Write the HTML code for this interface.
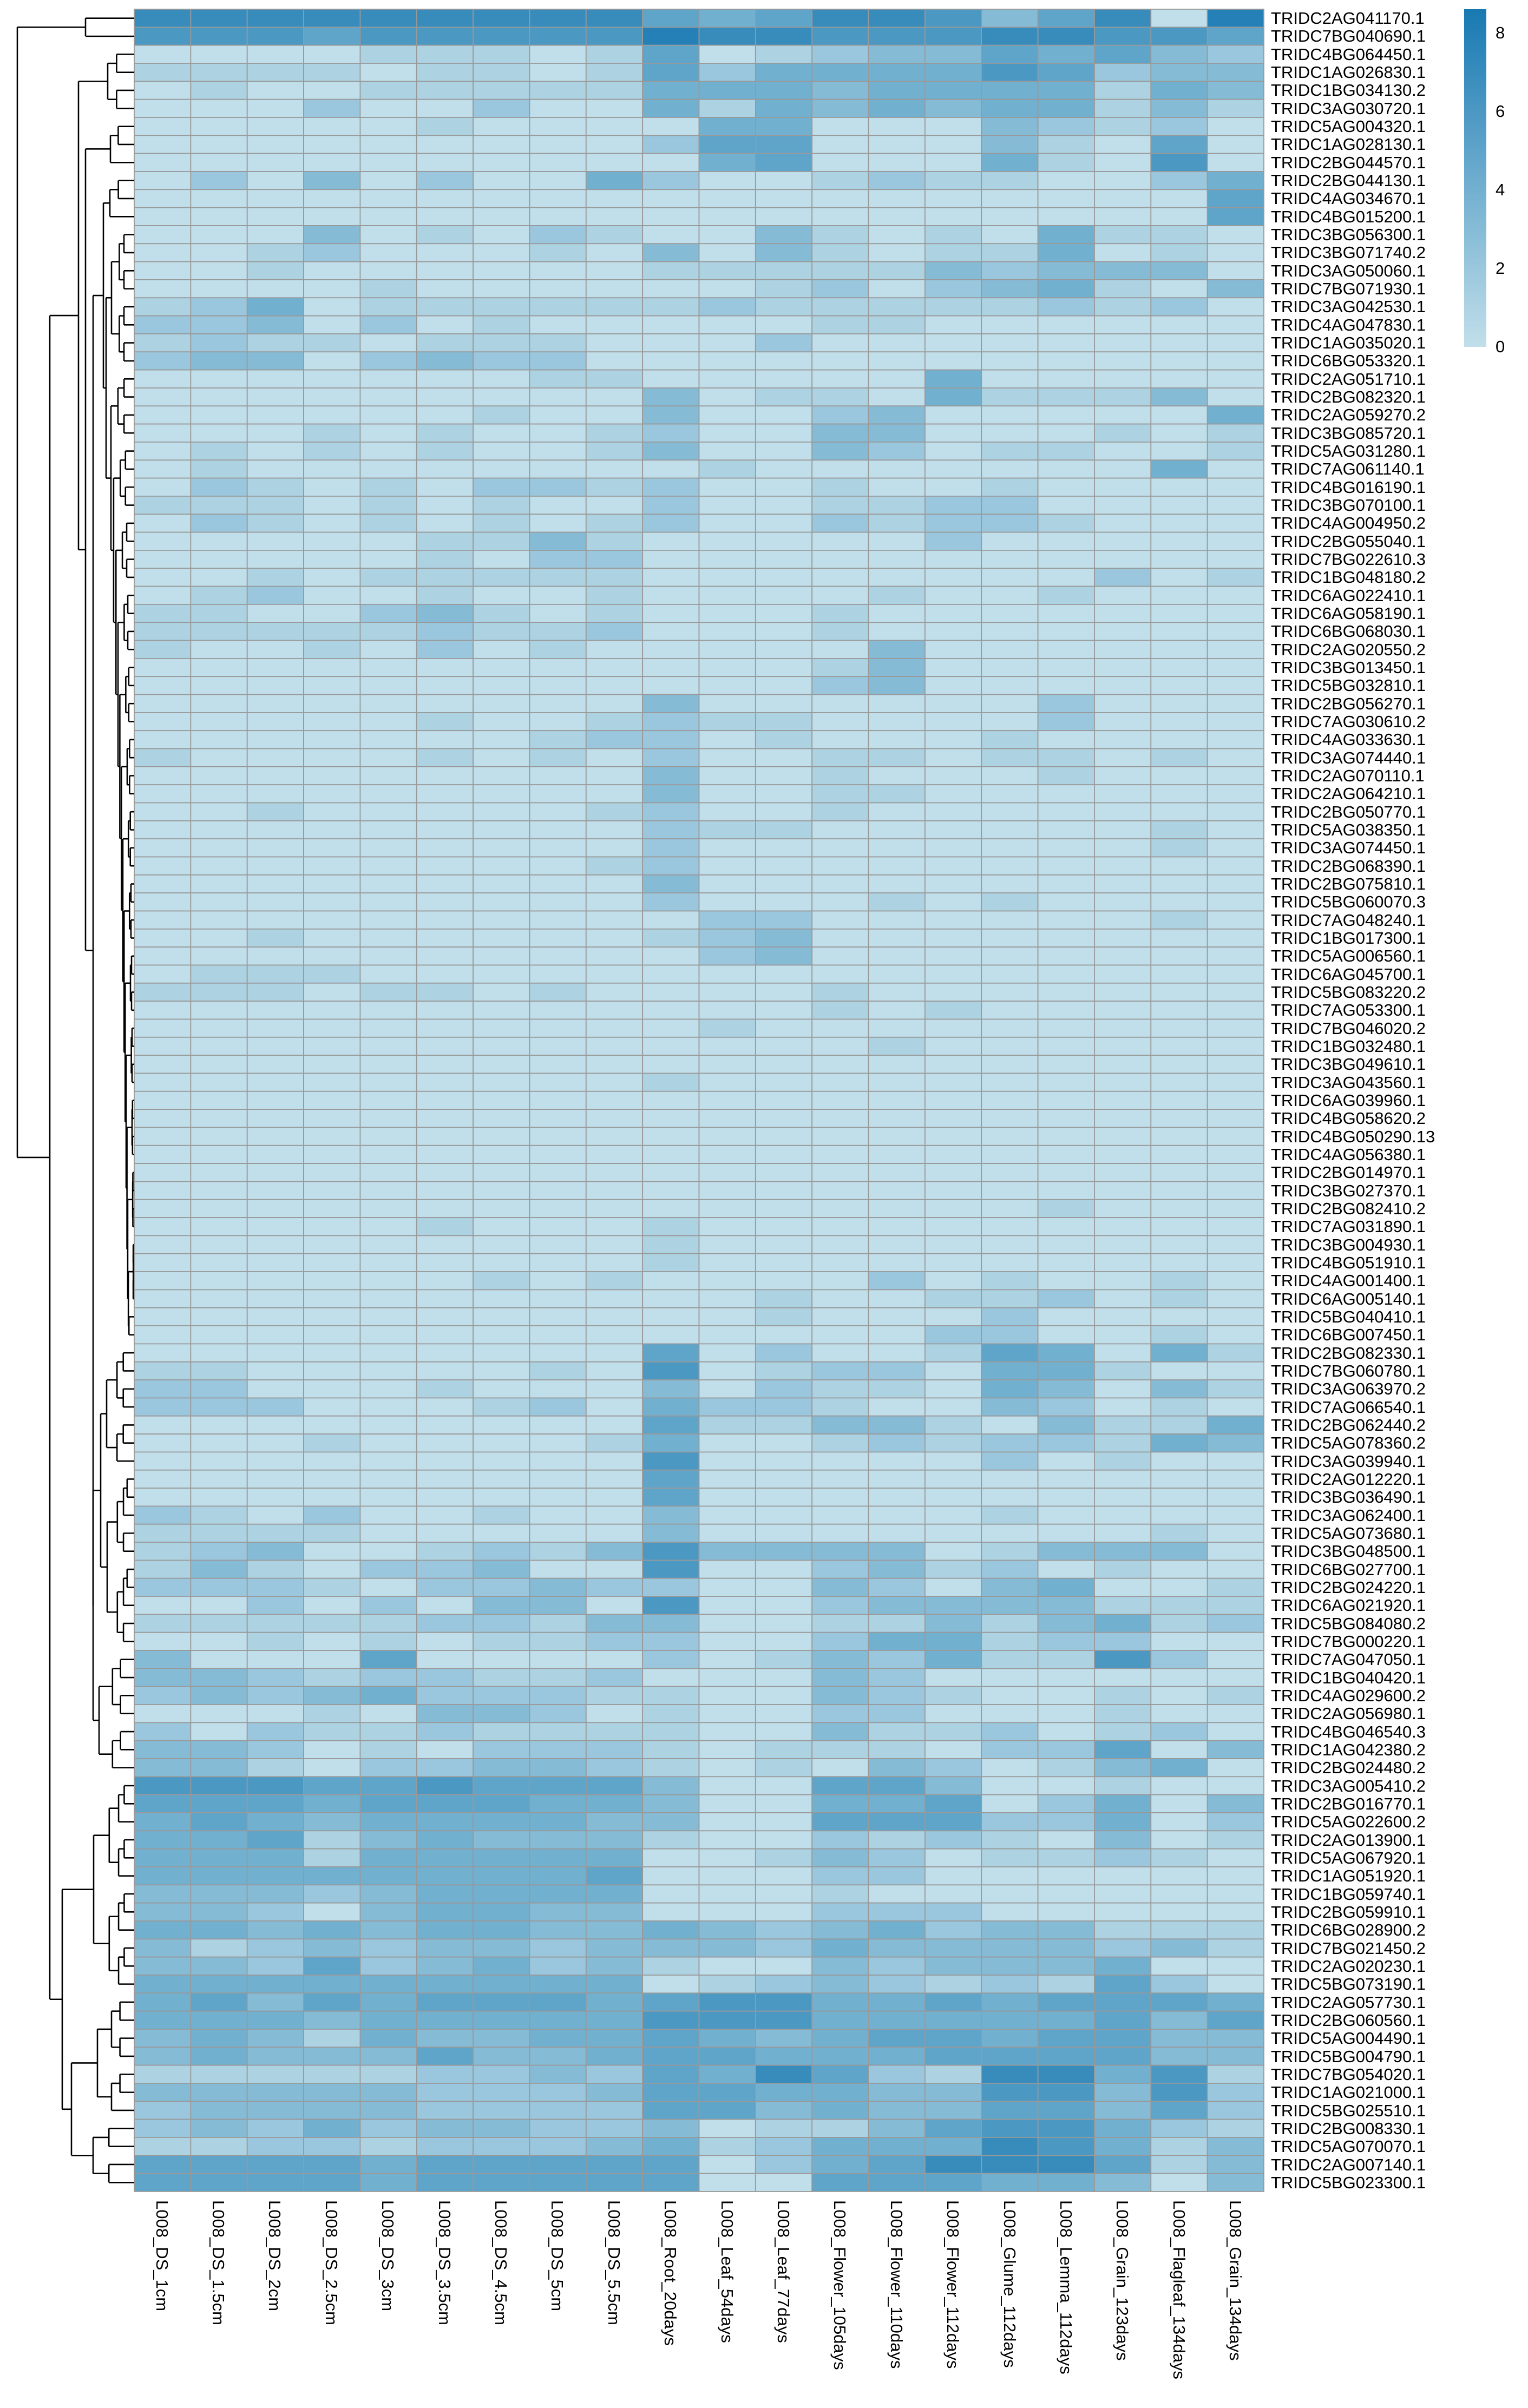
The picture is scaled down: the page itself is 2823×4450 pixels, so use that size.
<!DOCTYPE html>
<html><head><meta charset="utf-8"><style>
html,body{margin:0;padding:0;background:#fff;}
svg{display:block;}
text{font-family:"Liberation Sans",sans-serif;fill:#000;}
</style></head><body>
<svg id="s" width="2823" height="4450" viewBox="0 0 2823 4450" xmlns="http://www.w3.org/2000/svg">
<defs><linearGradient id="cb" x1="0" y1="0" x2="0" y2="1"><stop offset="0" stop-color="#1879b2"/><stop offset="1" stop-color="#c1dfea"/></linearGradient></defs>
<g id="cells"></g>
<g id="dend" stroke="#000" stroke-width="2.6" fill="none"></g>
<rect x="2705" y="17" width="41" height="624" fill="url(#cb)"/>
<g font-size="31">
<text x="2763" y="71">8</text><text x="2763" y="216">6</text><text x="2763" y="361">4</text><text x="2763" y="506">2</text><text x="2763" y="651">0</text>
</g>
<g id="rl" font-size="31">
<text x="2348" y="44">TRIDC2AG041170.1</text>
<text x="2348" y="77">TRIDC7BG040690.1</text>
<text x="2348" y="111">TRIDC4BG064450.1</text>
<text x="2348" y="144">TRIDC1AG026830.1</text>
<text x="2348" y="177">TRIDC1BG034130.2</text>
<text x="2348" y="211">TRIDC3AG030720.1</text>
<text x="2348" y="244">TRIDC5AG004320.1</text>
<text x="2348" y="277">TRIDC1AG028130.1</text>
<text x="2348" y="311">TRIDC2BG044570.1</text>
<text x="2348" y="344">TRIDC2BG044130.1</text>
<text x="2348" y="377">TRIDC4AG034670.1</text>
<text x="2348" y="411">TRIDC4BG015200.1</text>
<text x="2348" y="444">TRIDC3BG056300.1</text>
<text x="2348" y="477">TRIDC3BG071740.2</text>
<text x="2348" y="511">TRIDC3AG050060.1</text>
<text x="2348" y="544">TRIDC7BG071930.1</text>
<text x="2348" y="577">TRIDC3AG042530.1</text>
<text x="2348" y="611">TRIDC4AG047830.1</text>
<text x="2348" y="644">TRIDC1AG035020.1</text>
<text x="2348" y="677">TRIDC6BG053320.1</text>
<text x="2348" y="711">TRIDC2AG051710.1</text>
<text x="2348" y="744">TRIDC2BG082320.1</text>
<text x="2348" y="777">TRIDC2AG059270.2</text>
<text x="2348" y="811">TRIDC3BG085720.1</text>
<text x="2348" y="844">TRIDC5AG031280.1</text>
<text x="2348" y="877">TRIDC7AG061140.1</text>
<text x="2348" y="911">TRIDC4BG016190.1</text>
<text x="2348" y="944">TRIDC3BG070100.1</text>
<text x="2348" y="977">TRIDC4AG004950.2</text>
<text x="2348" y="1011">TRIDC2BG055040.1</text>
<text x="2348" y="1044">TRIDC7BG022610.3</text>
<text x="2348" y="1077">TRIDC1BG048180.2</text>
<text x="2348" y="1111">TRIDC6AG022410.1</text>
<text x="2348" y="1144">TRIDC6AG058190.1</text>
<text x="2348" y="1177">TRIDC6BG068030.1</text>
<text x="2348" y="1211">TRIDC2AG020550.2</text>
<text x="2348" y="1244">TRIDC3BG013450.1</text>
<text x="2348" y="1277">TRIDC5BG032810.1</text>
<text x="2348" y="1311">TRIDC2BG056270.1</text>
<text x="2348" y="1344">TRIDC7AG030610.2</text>
<text x="2348" y="1377">TRIDC4AG033630.1</text>
<text x="2348" y="1411">TRIDC3AG074440.1</text>
<text x="2348" y="1444">TRIDC2AG070110.1</text>
<text x="2348" y="1477">TRIDC2AG064210.1</text>
<text x="2348" y="1511">TRIDC2BG050770.1</text>
<text x="2348" y="1544">TRIDC5AG038350.1</text>
<text x="2348" y="1577">TRIDC3AG074450.1</text>
<text x="2348" y="1611">TRIDC2BG068390.1</text>
<text x="2348" y="1644">TRIDC2BG075810.1</text>
<text x="2348" y="1677">TRIDC5BG060070.3</text>
<text x="2348" y="1711">TRIDC7AG048240.1</text>
<text x="2348" y="1744">TRIDC1BG017300.1</text>
<text x="2348" y="1777">TRIDC5AG006560.1</text>
<text x="2348" y="1811">TRIDC6AG045700.1</text>
<text x="2348" y="1844">TRIDC5BG083220.2</text>
<text x="2348" y="1877">TRIDC7AG053300.1</text>
<text x="2348" y="1911">TRIDC7BG046020.2</text>
<text x="2348" y="1944">TRIDC1BG032480.1</text>
<text x="2348" y="1977">TRIDC3BG049610.1</text>
<text x="2348" y="2011">TRIDC3AG043560.1</text>
<text x="2348" y="2044">TRIDC6AG039960.1</text>
<text x="2348" y="2077">TRIDC4BG058620.2</text>
<text x="2348" y="2111">TRIDC4BG050290.13</text>
<text x="2348" y="2144">TRIDC4AG056380.1</text>
<text x="2348" y="2177">TRIDC2BG014970.1</text>
<text x="2348" y="2211">TRIDC3BG027370.1</text>
<text x="2348" y="2244">TRIDC2BG082410.2</text>
<text x="2348" y="2277">TRIDC7AG031890.1</text>
<text x="2348" y="2311">TRIDC3BG004930.1</text>
<text x="2348" y="2344">TRIDC4BG051910.1</text>
<text x="2348" y="2377">TRIDC4AG001400.1</text>
<text x="2348" y="2411">TRIDC6AG005140.1</text>
<text x="2348" y="2444">TRIDC5BG040410.1</text>
<text x="2348" y="2477">TRIDC6BG007450.1</text>
<text x="2348" y="2511">TRIDC2BG082330.1</text>
<text x="2348" y="2544">TRIDC7BG060780.1</text>
<text x="2348" y="2577">TRIDC3AG063970.2</text>
<text x="2348" y="2611">TRIDC7AG066540.1</text>
<text x="2348" y="2644">TRIDC2BG062440.2</text>
<text x="2348" y="2677">TRIDC5AG078360.2</text>
<text x="2348" y="2711">TRIDC3AG039940.1</text>
<text x="2348" y="2744">TRIDC2AG012220.1</text>
<text x="2348" y="2777">TRIDC3BG036490.1</text>
<text x="2348" y="2811">TRIDC3AG062400.1</text>
<text x="2348" y="2844">TRIDC5AG073680.1</text>
<text x="2348" y="2877">TRIDC3BG048500.1</text>
<text x="2348" y="2911">TRIDC6BG027700.1</text>
<text x="2348" y="2944">TRIDC2BG024220.1</text>
<text x="2348" y="2977">TRIDC6AG021920.1</text>
<text x="2348" y="3011">TRIDC5BG084080.2</text>
<text x="2348" y="3044">TRIDC7BG000220.1</text>
<text x="2348" y="3077">TRIDC7AG047050.1</text>
<text x="2348" y="3111">TRIDC1BG040420.1</text>
<text x="2348" y="3144">TRIDC4AG029600.2</text>
<text x="2348" y="3177">TRIDC2AG056980.1</text>
<text x="2348" y="3211">TRIDC4BG046540.3</text>
<text x="2348" y="3244">TRIDC1AG042380.2</text>
<text x="2348" y="3277">TRIDC2BG024480.2</text>
<text x="2348" y="3311">TRIDC3AG005410.2</text>
<text x="2348" y="3344">TRIDC2BG016770.1</text>
<text x="2348" y="3377">TRIDC5AG022600.2</text>
<text x="2348" y="3411">TRIDC2AG013900.1</text>
<text x="2348" y="3444">TRIDC5AG067920.1</text>
<text x="2348" y="3477">TRIDC1AG051920.1</text>
<text x="2348" y="3511">TRIDC1BG059740.1</text>
<text x="2348" y="3544">TRIDC2BG059910.1</text>
<text x="2348" y="3577">TRIDC6BG028900.2</text>
<text x="2348" y="3611">TRIDC7BG021450.2</text>
<text x="2348" y="3644">TRIDC2AG020230.1</text>
<text x="2348" y="3677">TRIDC5BG073190.1</text>
<text x="2348" y="3711">TRIDC2AG057730.1</text>
<text x="2348" y="3744">TRIDC2BG060560.1</text>
<text x="2348" y="3777">TRIDC5AG004490.1</text>
<text x="2348" y="3811">TRIDC5BG004790.1</text>
<text x="2348" y="3844">TRIDC7BG054020.1</text>
<text x="2348" y="3877">TRIDC1AG021000.1</text>
<text x="2348" y="3911">TRIDC5BG025510.1</text>
<text x="2348" y="3944">TRIDC2BG008330.1</text>
<text x="2348" y="3977">TRIDC5AG070070.1</text>
<text x="2348" y="4011">TRIDC2AG007140.1</text>
<text x="2348" y="4044">TRIDC5BG023300.1</text>
</g>
<g font-size="31">
<text transform="translate(289,4066) rotate(90)">L008_DS_1cm</text>
<text transform="translate(393,4066) rotate(90)">L008_DS_1.5cm</text>
<text transform="translate(497,4066) rotate(90)">L008_DS_2cm</text>
<text transform="translate(602,4066) rotate(90)">L008_DS_2.5cm</text>
<text transform="translate(706,4066) rotate(90)">L008_DS_3cm</text>
<text transform="translate(811,4066) rotate(90)">L008_DS_3.5cm</text>
<text transform="translate(915,4066) rotate(90)">L008_DS_4.5cm</text>
<text transform="translate(1019,4066) rotate(90)">L008_DS_5cm</text>
<text transform="translate(1124,4066) rotate(90)">L008_DS_5.5cm</text>
<text transform="translate(1228,4066) rotate(90)">L008_Root_20days</text>
<text transform="translate(1333,4066) rotate(90)">L008_Leaf_54days</text>
<text transform="translate(1437,4066) rotate(90)">L008_Leaf_77days</text>
<text transform="translate(1541,4066) rotate(90)">L008_Flower_105days</text>
<text transform="translate(1646,4066) rotate(90)">L008_Flower_110days</text>
<text transform="translate(1750,4066) rotate(90)">L008_Flower_112days</text>
<text transform="translate(1855,4066) rotate(90)">L008_Glume_112days</text>
<text transform="translate(1959,4066) rotate(90)">L008_Lemma_112days</text>
<text transform="translate(2063,4066) rotate(90)">L008_Grain_123days</text>
<text transform="translate(2168,4066) rotate(90)">L008_Flagleaf_134days</text>
<text transform="translate(2272,4066) rotate(90)">L008_Grain_134days</text>
</g>
</svg>
<script>
var D=[
"77777777754577635708",
"66656666687766677665",
"00001110150123354532",
"11110110152444465233",
"01001111144434444143",
"00020020041434344131",
"00000100004400032120",
"00000000025500031050",
"00000000004500041060",
"02030200420012110024",
"00000000000000000005",
"00000000000000000005",
"00030102100310104110",
"00120001030310114010",
"00100000011111323330",
"00001000000120234103",
"12401111112111112120",
"22302010000011000000",
"12110111000200000000",
"23302322000000000000",
"00000001100000400000",
"00000000030110411130",
"00000010030023000004",
"00010100120033000101",
"01010100130032011001",
"01000000001000000040",
"02101022120010010000",
"11101010020011220000",
"02101010120021221000",
"00000113100000200000",
"00000102200000000000",
"00101111100000000201",
"01200100100001001000",
"11002310100010000000",
"11111211200010000000",
"10010201000003000000",
"00000000000013000000",
"00000000000023000000",
"00000000030000002000",
"00000100121100002000",
"00000001220100010000",
"10000101020011011010",
"00000000030010001000",
"00000000030011000000",
"00100000120010000000",
"00000000021100000010",
"00000000020000000010",
"00000000120000000000",
"00000000030000000000",
"00000000020001010000",
"00000000002200000010",
"00100000012300000000",
"00000000002300000000",
"01110000000000000000",
"11101101000010000000",
"00000000000010100000",
"00000000001000000000",
"00000000000001000000",
"00000000000000000000",
"00000000010000000000",
"00000000000000000000",
"00000000000000000000",
"00000000000000000000",
"00000000000000000000",
"00000000000000000000",
"00000000000000000000",
"00000000000000001000",
"00000100010000000000",
"00000000010000000000",
"00000000010000000000",
"00000010100002010010",
"00000000000100112010",
"00000000000100020000",
"00000000000000220010",
"00000000050200154041",
"11000001060122044100",
"22000100030211043031",
"22200012042210032010",
"00000000051133103114",
"00010000140012122143",
"00000000060000020100",
"00000000050000000000",
"00000000050000000000",
"21020010030000010000",
"11110000030000000010",
"12300121363333013330",
"13102230060023120100",
"22210223220032034001",
"00202033060023333111",
"11111221330011313412",
"00101011220024412200",
"30005000020132411620",
"33212211200032000000",
"23234222110032100101",
"00010332010022000100",
"20211211110031120120",
"33201022210111022503",
"33102233210103201340",
"66655655530055300100",
"55545554430044502403",
"45434444330055522402",
"44513433310021210301",
"44414444400132011210",
"44444444500022000000",
"33323444400010000000",
"33203443300022200000",
"44343443343234233111",
"31232332333243333231",
"33252342310032333400",
"44444444401232121520",
"45354555456644545554",
"44434444466644444535",
"34314334454345545533",
"34333533455444555533",
"11111223254752177461",
"33333222355443366362",
"23333222255343355352",
"23242332230113566421",
"11221222341244476413",
"55554555550245777513",
"55554555550055544303"
];
var NS="http://www.w3.org/2000/svg";
var X0=248,W=104.35,Y0=17,H=33.33;
var lo=[193,223,234],hi=[24,121,178];
function col(v){var t=Math.min(v/8.6,1);return "rgb("+lo.map(function(a,i){return Math.round(a+(hi[i]-a)*t)}).join(",")+")";}
var g=document.getElementById("cells");
for(var r=0;r<D.length;r++){for(var c=0;c<20;c++){var e=document.createElementNS(NS,"rect");
e.setAttribute("x",X0+c*W);e.setAttribute("y",Y0+r*H);e.setAttribute("width",W);e.setAttribute("height",H);
e.setAttribute("fill",col(+D[r][c]));e.setAttribute("stroke","#999");e.setAttribute("stroke-width","1.8");g.appendChild(e);}}
function bal(a,b,x0,x1){if(a===b)return a;var m=Math.floor((a+b)/2);var nx=x0+(x1-x0)*0.4;return [x0,bal(a,m,nx,x1),bal(m+1,b,nx,x1)];}
function chain(a,b,x0,x1,step){if(b-a<4)return bal(a,b,x0,x1);var n=a+step-1;if(n>=b)return bal(a,b,x0,x1);var nx=x0+(x1-x0)*0.12;return [x0,bal(a,n,nx+8,x1),chain(n+1,b,nx,x1,step)];}
var T=[32,[158,0,1],[92,
 [145,bal(2,5,199,240),
  [158,bal(6,8,204,240),
   [172,[191,bal(9,11,203,242),[196,bal(12,19,206,242),chain(20,73,205,246,4)]],
        [172,[186,bal(74,80,197,245),bal(81,90,198,245)],bal(91,97,183,245)]]]],
 [115,bal(98,109,173,245),[132,bal(110,116,180,245),bal(117,120,172,245)]]]];
var dg=document.getElementById("dend");var LX=248;
function line(x1,y1,x2,y2){var e=document.createElementNS(NS,"line");e.setAttribute("x1",x1);e.setAttribute("y1",y1);e.setAttribute("x2",x2);e.setAttribute("y2",y2);dg.appendChild(e);}
function draw(n){if(typeof n==="number")return {x:LX,y:Y0+(n+0.5)*H};
var a=draw(n[1]),b=draw(n[2]),h=n[0];line(h,a.y,a.x,a.y);line(h,b.y,b.x,b.y);line(h,a.y,h,b.y);return {x:h,y:(a.y+b.y)/2};}
draw(T);
</script>
</body></html>
